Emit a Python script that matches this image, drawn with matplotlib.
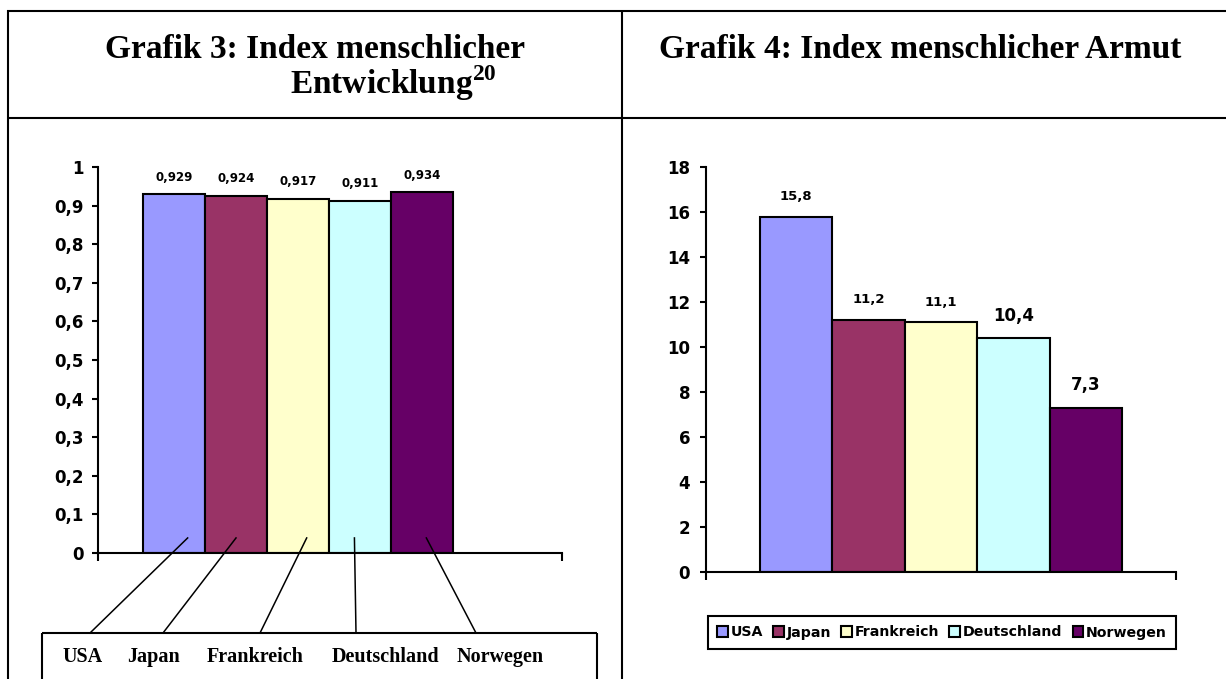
import matplotlib
matplotlib.use("Agg")
import matplotlib.pyplot as plt
from matplotlib.lines import Line2D

# ---------------- data ----------------
countries = ["USA", "Japan", "Frankreich", "Deutschland", "Norwegen"]
hdi_values = [0.929, 0.924, 0.917, 0.911, 0.934]
hpi_values = [15.8, 11.2, 11.1, 10.4, 7.3]
hdi_ticks = [0, 0.1, 0.2, 0.3, 0.4, 0.5, 0.6, 0.7, 0.8, 0.9, 1.0]
hpi_ticks = [0, 2, 4, 6, 8, 10, 12, 14, 16, 18]
title_left_1 = "Grafik 3: Index menschlicher"
title_left_2 = "Entwicklung$^{20}$"
title_right = "Grafik 4: Index menschlicher Armut"

# ---------------- styles ----------------
colors = ["#9999FF", "#993366", "#FFFFCC", "#CCFFFF", "#660066"]
hpi_label_sizes = [9.5, 9.5, 9.5, 12, 12]
hpi_label_offsets = [14.5, 14.5, 14.5, 16, 16.5]

plt.rcParams["mathtext.fontset"] = "custom"
plt.rcParams["mathtext.rm"] = "Liberation Serif:bold"
plt.rcParams["mathtext.bf"] = "Liberation Serif:bold"

W, H = 1226, 679
fig = plt.figure(figsize=(W / 100, H / 100), dpi=100)


def fx(x):
    return x / W


def fy(y):
    return 1 - y / H


def fmt(v):
    return f"{v:g}".replace(".", ",")


SERIF = "Liberation Serif"
SANS = "DejaVu Sans"
LW = 1.5

# ---------------- table frame ----------------
def hline(y, x0, x1):
    fig.add_artist(Line2D([fx(x0), fx(x1)], [fy(y), fy(y)], transform=fig.transFigure,
                          color="black", lw=LW, solid_capstyle="butt"))


def vline(x, y0, y1):
    fig.add_artist(Line2D([fx(x), fx(x)], [fy(y0), fy(y1)], transform=fig.transFigure,
                          color="black", lw=LW, solid_capstyle="butt"))


hline(11, 7, 1226)
hline(117.5, 7, 1226)
vline(8, 10, 679)
vline(622, 10, 679)

# ---------------- titles ----------------
fig.text(fx(315), fy(58), title_left_1, ha="center", va="baseline",
         family=SERIF, weight="bold", size=24)
fig.text(fx(290), fy(94), title_left_2, ha="left", va="baseline",
         family=SERIF, weight="bold", size=24)
fig.text(fx(920), fy(58), title_right, ha="center", va="baseline",
         family=SERIF, weight="bold", size=24)

# ---------------- left chart ----------------
ax1 = fig.add_axes([fx(98), fy(553), (562 - 98) / W, (553 - 167) / H])
x = list(range(len(countries)))
ax1.bar(x, hdi_values, width=1.0, color=colors, edgecolor="black", linewidth=LW)
ax1.set_ylim(0, 1)
ax1.set_xlim(-1.226, 6.258)
for s in ("top", "right"):
    ax1.spines[s].set_visible(False)
for s in ("left", "bottom"):
    ax1.spines[s].set_linewidth(LW)
ax1.set_yticks(hdi_ticks)
ax1.set_yticklabels([fmt(t) for t in hdi_ticks], family=SANS, weight="bold", size=12)
ax1.set_xticks(ax1.get_xlim())
ax1.set_xticklabels([])
ax1.tick_params(axis="y", direction="out", length=4.5, width=LW, pad=6)
ax1.tick_params(axis="x", direction="out", length=6, width=LW)
for xi, v in zip(x, hdi_values):
    ax1.annotate(fmt(v), (xi, v), xytext=(0, 12.5), textcoords="offset points",
                 ha="center", va="center", family=SANS, weight="bold", size=8.5)

# leader lines from bars to the label box
lead_dx = [0.22, 0.0, 0.14, -0.09, 0.07]
lead_y = 0.039
lead_end_x = [90, 163, 260, 356, 476]
box_top = 633
fig.canvas.draw()
for xi, dx, ex in zip(x, lead_dx, lead_end_x):
    sx, sy = ax1.transData.transform((xi + dx, lead_y))
    fig.add_artist(Line2D([sx / W, fx(ex)], [sy / H, fy(box_top)], transform=fig.transFigure,
                          color="black", lw=1.1))

# label box
hline(box_top, 42, 597)
vline(42, box_top, 679)
vline(597, box_top, 679)
label_centers = [83, 153.5, 255, 385.5, 500]
for name, cx in zip(countries, label_centers):
    fig.text(fx(cx), fy(662), name, ha="center", va="baseline",
             family=SERIF, weight="bold", size=14.5)

# ---------------- right chart ----------------
ax2 = fig.add_axes([fx(706), fy(572), (1176 - 706) / W, (572 - 167) / H])
bars = ax2.bar(x, hpi_values, width=1.0, color=colors, edgecolor="black", linewidth=LW)
ax2.set_ylim(0, 18)
ax2.set_xlim(-1.246, 5.246)
for s in ("top", "right"):
    ax2.spines[s].set_visible(False)
for s in ("left", "bottom"):
    ax2.spines[s].set_linewidth(LW)
ax2.set_yticks(hpi_ticks)
ax2.set_yticklabels([fmt(t) for t in hpi_ticks], family=SANS, weight="bold", size=12)
ax2.set_xticks(ax2.get_xlim())
ax2.set_xticklabels([])
ax2.tick_params(axis="y", direction="out", length=4.5, width=LW, pad=7)
ax2.tick_params(axis="x", direction="out", length=5.5, width=LW)
for xi, v, sz, off in zip(x, hpi_values, hpi_label_sizes, hpi_label_offsets):
    ax2.annotate(fmt(v), (xi, v), xytext=(0, off), textcoords="offset points",
                 ha="center", va="center", family=SANS, weight="bold", size=sz)

leg = ax2.legend(bars, countries, ncol=5, loc="center",
                 bbox_to_anchor=(fx(942), fy(632.5)), bbox_transform=fig.transFigure,
                 prop={"family": SANS, "weight": "bold", "size": 10.2},
                 handlelength=0.75, handleheight=0.75, handletextpad=0.2,
                 columnspacing=0.72, borderpad=0.65, fancybox=False, frameon=True,
                 edgecolor="black", framealpha=1)
leg.get_frame().set_linewidth(LW)

fig.savefig("out.png", dpi=100)
